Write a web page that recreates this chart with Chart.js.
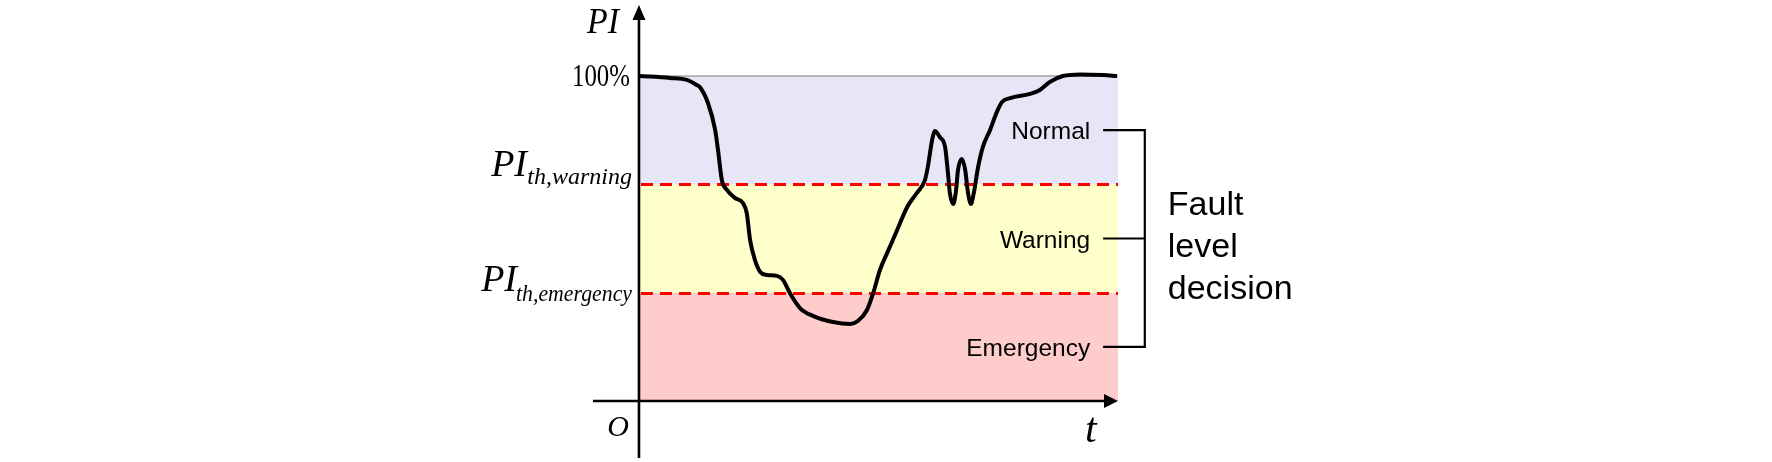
<!DOCTYPE html>
<html>
<head>
<meta charset="utf-8">
<script src="https://cdn.jsdelivr.net/npm/chart.js@4/dist/chart.umd.min.js"></script>
<style>
  html, body { margin: 0; padding: 0; background: #fff; }
  #wrap { width: 1772px; height: 462px; }
</style>
</head>
<body>
<div id="wrap"><canvas id="chart" width="1772" height="462"></canvas></div>
<script>
// PI(t) curve
const tValues = [0, 6.5, 10.0, 12.1, 12.7, 14.4, 15.9, 16.5, 17.3, 18.4, 20.0, 21.7, 22.5, 23.2, 24.2,
  25.3, 26.7, 28.8, 30.1, 31.5, 33.6, 36.3, 40.5, 44.1, 45.7, 47.6, 48.9, 50.3, 51.8, 53.9,
  56.0, 58.0, 59.7, 60.3, 61.2, 61.8, 62.8, 63.9, 64.5, 64.9, 65.6, 66.2, 66.6, 67.4, 68.1,
  68.7, 69.3, 69.9, 70.8, 71.8, 73.3, 74.7, 75.8, 77.5, 81.6, 83.7, 85.8, 88.5, 92.1, 96.9, 99.8];
const piValues = [100, 99.4, 98.8, 97.2, 96.6, 91.7, 83.4, 77.2, 68.0, 64.9, 62.5, 60.9, 57.8, 49.5, 43.4,
  39.7, 38.8, 38.5, 37.2, 33.2, 28.6, 26.2, 24.3, 23.7, 24.6, 28.0, 33.2, 40.3, 45.5, 52.6,
  59.7, 64.0, 68.0, 72.0, 80.3, 83.1, 81.2, 78.2, 70.2, 64.0, 60.6, 64.9, 71.1, 74.5, 71.1,
  64.0, 60.6, 64.0, 72.0, 78.2, 83.4, 88.9, 92.0, 93.2, 94.5, 95.7, 98.2, 100.0, 100.5, 100.3, 100];

// thresholds and fault levels
const thWarning = 66.7;
const thEmergency = 33.3;
const bandEdges = [0, 33.3, 66.7, 100];
const bandNames = ["Emergency", "Warning", "Normal"];
const bandColors = ["#ffcccc", "#ffffcc", "#e6e6f6"];
const decisionLines = ["Fault", "level", "decision"];

// axis extents (t = 0..100 spans the plot, PI in %)
const tRange = [-9.6, 100.84];
const piRange = [-17.54, 121.85];

const serif = '"Liberation Serif", "DejaVu Serif", serif';
const sans = '"Liberation Sans", Arial, sans-serif';

// bands, thresholds, axes and labels
const bandsPlugin = {
  id: "bands",
  beforeDatasetsDraw(chart) {
    const { ctx, scales: { x, y } } = chart;
    const x0 = x.getPixelForValue(0);
    const x1 = x.getPixelForValue(100);
    ctx.save();
    bandColors.forEach((c, i) => {
      const top = y.getPixelForValue(bandEdges[i + 1]);
      const bot = y.getPixelForValue(bandEdges[i]);
      ctx.fillStyle = c;
      ctx.fillRect(x0, top, x1 - x0, bot - top);
    });
    // 100% line
    ctx.strokeStyle = "#7a7a7a";
    ctx.lineWidth = 1.2;
    ctx.beginPath();
    ctx.moveTo(x0, y.getPixelForValue(100));
    ctx.lineTo(x1, y.getPixelForValue(100));
    ctx.stroke();
    // dashed thresholds
    ctx.strokeStyle = "#ff0000";
    ctx.lineWidth = 2.8;
    ctx.setLineDash([12, 7]);
    [thWarning, thEmergency].forEach((v) => {
      const py = Math.round(y.getPixelForValue(v)) + 0.5;
      ctx.beginPath();
      ctx.moveTo(x0 + 2, py);
      ctx.lineTo(x1, py);
      ctx.stroke();
    });
    ctx.restore();
  },
  afterDatasetsDraw(chart) {
    const { ctx, scales: { x, y } } = chart;
    const ox = x.getPixelForValue(0);
    const oy = y.getPixelForValue(0);
    const xEnd = x.getPixelForValue(100);
    ctx.save();
    ctx.strokeStyle = "#000";
    ctx.fillStyle = "#000";
    ctx.lineWidth = 2.6;
    ctx.setLineDash([]);
    // x axis
    ctx.beginPath();
    ctx.moveTo(x.left, oy);
    ctx.lineTo(xEnd - 8, oy);
    ctx.stroke();
    ctx.beginPath();
    ctx.moveTo(xEnd, oy);
    ctx.lineTo(xEnd - 14, oy - 7);
    ctx.lineTo(xEnd - 14, oy + 7);
    ctx.closePath();
    ctx.fill();
    // y axis
    ctx.beginPath();
    ctx.moveTo(ox, y.bottom);
    ctx.lineTo(ox, y.top + 10);
    ctx.stroke();
    ctx.beginPath();
    ctx.moveTo(ox, y.top);
    ctx.lineTo(ox - 6.5, y.top + 15);
    ctx.lineTo(ox + 6.5, y.top + 15);
    ctx.closePath();
    ctx.fill();

    // axis labels
    ctx.textAlign = "right";
    ctx.textBaseline = "alphabetic";
    ctx.font = "italic 36px " + serif;
    ctx.fillText("PI", 619, 33, 32);
    ctx.font = "31px " + serif;
    ctx.fillText("100%", 630, y.getPixelForValue(100) + 10, 58);
    ctx.font = "italic 30px " + serif;
    ctx.fillText("O", 629, 436);
    ctx.textAlign = "left";
    ctx.font = "italic 42px " + serif;
    ctx.fillText("t", 1085, 442);

    // threshold labels
    const thLabel = (sub, yv, dyMain, dySub, subW) => {
      const py = y.getPixelForValue(yv);
      ctx.textAlign = "right";
      ctx.font = "italic 24px " + serif;
      ctx.fillText(sub, 632, py + dySub, subW);
      ctx.font = "italic 38px " + serif;
      ctx.fillText("PI", 632 - subW + 1, py + dyMain);
    };
    thLabel("th,warning", thWarning, -8, 0, 106);
    thLabel("th,emergency", thEmergency, -2, 8, 116);

    // fault levels and bracket
    ctx.font = "24.5px " + sans;
    ctx.textAlign = "right";
    const labelX = x.getPixelForValue(94.2);
    const tickL = x.getPixelForValue(96.9);
    const tickR = x.getPixelForValue(105.6);
    const ys = bandNames.map((n, i) => y.getPixelForValue((bandEdges[i] + bandEdges[i + 1]) / 2));
    bandNames.forEach((n, i) => ctx.fillText(n, labelX, ys[i] + 9));
    ctx.lineWidth = 2.2;
    ctx.beginPath();
    ctx.moveTo(tickL, ys[2]);
    ctx.lineTo(tickR, ys[2]);
    ctx.lineTo(tickR, ys[0]);
    ctx.lineTo(tickL, ys[0]);
    ctx.moveTo(tickL, ys[1]);
    ctx.lineTo(tickR, ys[1]);
    ctx.stroke();
    ctx.textAlign = "left";
    ctx.font = "34px " + sans;
    const fx = x.getPixelForValue(110.4);
    decisionLines.forEach((s, i) => ctx.fillText(s, fx, 215 + i * 42));
    ctx.restore();
  },
};

const ctx = document.getElementById("chart").getContext("2d");
new Chart(ctx, {
  type: "line",
  data: {
    datasets: [
      {
        data: tValues.map((t, i) => ({ x: t, y: piValues[i] })),
        borderColor: "#000",
        borderWidth: 4,
        pointRadius: 0,
        cubicInterpolationMode: "monotone",
        fill: false,
      },
    ],
  },
  options: {
    responsive: false,
    animation: false,
    devicePixelRatio: 1,
    layout: { padding: { left: 593, right: 650, top: 5, bottom: 4 } },
    plugins: { legend: { display: false }, tooltip: { enabled: false } },
    scales: {
      x: { type: "linear", display: false, min: tRange[0], max: tRange[1] },
      y: { type: "linear", display: false, min: piRange[0], max: piRange[1] },
    },
  },
  plugins: [bandsPlugin],
});
</script>
</body>
</html>
